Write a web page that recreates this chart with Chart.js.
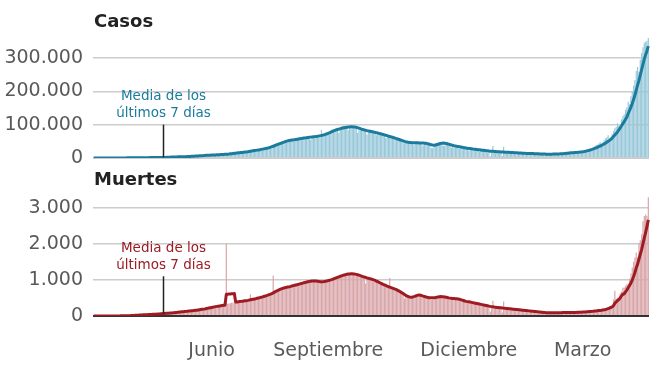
<!DOCTYPE html>
<html>
<head>
<meta charset="utf-8">
<script src="https://cdn.jsdelivr.net/npm/chart.js@4.4.0/dist/chart.umd.min.js"></script>
<style>
  html, body { margin: 0; padding: 0; background: #fff; }
  #wrap { position: relative; width: 660px; height: 371px; }
  #casos { position: absolute; left: 0; top: 0; }
  #muertes { position: absolute; left: 0; top: 165px; }
</style>
</head>
<body>
<div id="wrap">
  <canvas id="casos" width="660" height="180"></canvas>
  <canvas id="muertes" width="660" height="206"></canvas>
</div>
<script>
// dia 0 = 9 de marzo de 2020, ultimo dia = 27 de abril de 2021
// casos en miles
var casosDiarios = [
  0,0,0,0,0,0,0,0,0,0,0,0.1,0.1,0.1,0.1,0.1,0.1,0.1,0.1,0.2,0.1,0.2,0.3,
  0.4,0.3,0.5,0.5,0.6,0.5,0.6,0.6,0.7,0.8,0.9,0.8,0.8,1.0,0.9,1.1,1.0,1.3,1.3,1.5,1.2,1.3,1.6,1.4,1.8,1.6,1.5,1.6,1.8,1.7,
  2.0,2.4,2.6,3.9,2.9,3.6,3.3,3.3,3.6,3.5,4.2,3.6,3.7,3.9,3.9,4.9,5.0,4.6,5.6,5.6,6.0,6.5,6.7,7.0,6.5,6.5,6.4,7.3,7.5,8.4,8.8,
  8.2,8.2,9.6,9.3,9.9,9.9,10.4,9.9,9.5,11.1,10.9,11.5,11.3,12.0,11.5,10.7,13.1,13.6,14.5,15.4,14.8,14.0,15.4,16.6,17.2,18.6,19.4,20.0,19.4,18.3,
  18.9,19.3,21.9,23.0,23.5,22.8,21.8,22.5,24.5,25.9,26.5,27.4,27.6,28.0,30.5,32.0,31.8,33.5,35.0,36.0,34.0,37.0,43.0,45.0,44.0,46.0,46.0,44.0,49.0,50.0,52.0,
  54,53,50,52,56,57,59,60,61,54,53,60,64,63,65,63,58,55,63,66,68,69,67,61,60,84,71,73,76,79,70,
  69,78,83,83,87,91,90,75,89,95,96,97,94,92,83,90,97,96,93,93,87,75,83,86,86,89,88,82,70,80,
  86,81,79,75,75,68,72,78,74,73,72,67,60,63,66,63,62,58,58,56,55,56,54,52,50,47,44,47,48,47,46,
  46,45,38,46,50,47,46,46,38,38,45,47,44,44,41,30,29,38,45,45,46,46,45,44,37,37,44,43,41,39,
  31,36,35,36,36,32,27,32,31,30,30,30,27,22,26,24,22,23,26,24,26,19,23,24,23,19,19,16,21,5,20,
  36,19,18,16,18,20,18,6,34,16,12,16,16,16,15,13,14,10,14,15,14,14,14,13,9,13,18,12,18,13,11,
  12,9,11,13,13,11,12,12,9,11,12,9,12,12,11,9,12,13,13,14,14,14,10,13,16,16,16,17,
  15,13,15,17,17,18,18,15,16,18,23,22,25,25,26,24,28,35,39,40,43,47,40,47,53,59,62,68,57,53,72,
  81,89,93,104,97,96,116,126,131,145,152,169,161,185,200,217,234,261,273,259,295,315,332,346,349,352,360
];
var casosMedia = [
  0,0,0,0,0,0,0,0,0,0,0,0,0.1,0.1,0.1,0.1,0.1,0.1,0.1,0.1,0.1,0.1,0.2,
  0.3,0.3,0.4,0.4,0.5,0.5,0.5,0.6,0.6,0.7,0.7,0.8,0.8,0.9,0.9,0.9,1.0,1.0,1.1,1.2,1.2,1.3,1.4,1.4,1.5,1.5,1.6,1.6,1.7,1.7,
  1.8,1.9,2.1,2.3,2.5,2.7,2.9,3.0,3.2,3.3,3.4,3.5,3.6,3.7,3.8,3.9,4.1,4.3,4.5,4.7,5.0,5.2,5.5,5.8,6.0,6.2,6.4,6.6,6.9,7.2,7.6,
  7.9,8.1,8.3,8.5,8.7,8.9,9.1,9.3,9.5,9.7,9.9,10.2,10.5,10.8,11.0,11.2,11.6,12.0,12.5,13.0,13.5,14.0,14.5,15.0,15.4,15.8,16.3,16.8,17.3,17.8,
  18.3,18.8,19.5,20.2,20.9,21.6,22.3,22.9,23.6,24.3,25.0,25.8,26.6,27.4,28.2,29.0,30.0,31.2,32.5,33.9,35.3,36.8,38.4,40.0,41.6,43.2,44.8,46.3,47.8,49.2,50.5,
  51.5,52.3,53.0,53.7,54.4,55.1,55.8,56.5,57.2,57.9,58.6,59.2,59.8,60.4,61.0,61.6,62.1,62.6,63.1,63.6,64.1,64.6,65.2,65.9,66.7,67.6,68.6,69.7,70.9,72.2,73.6,
  75.5,77.5,79.5,81.2,82.8,84.2,85.5,86.7,87.8,88.8,89.8,90.7,91.5,92.2,92.8,93.2,93.4,93.4,93.2,92.8,92.0,90.9,89.6,88.2,86.8,85.5,84.3,83.2,82.2,81.3,
  80.5,79.6,78.7,77.8,76.9,76.0,75.0,74.0,72.9,71.8,70.6,69.4,68.2,67.0,65.8,64.6,63.4,62.1,60.8,59.5,58.2,56.9,55.5,54.1,52.7,51.3,49.9,48.6,47.7,47.0,46.5,
  46.2,46.0,45.8,45.6,45.5,45.4,45.3,45.2,45.0,44.8,44.5,44.0,43.2,42.2,41.0,39.8,38.8,38.4,38.8,39.8,41.2,42.6,43.8,44.6,44.8,44.4,43.6,42.6,41.5,40.3,
  39.2,38.2,37.2,36.3,35.4,34.6,33.8,33.0,32.2,31.4,30.7,30.0,29.4,28.8,28.2,27.6,27.0,26.5,26.0,25.5,25.0,24.5,24.0,23.5,23.0,22.5,22.0,21.5,21.0,20.6,20.2,
  19.9,19.6,19.3,19.0,18.7,18.4,18.1,17.9,17.7,17.5,17.3,17.1,16.9,16.7,16.5,16.3,16.1,15.9,15.6,15.3,15.0,14.7,14.4,14.2,14.0,13.8,13.6,13.5,13.4,13.3,13.2,
  13.0,12.8,12.6,12.4,12.2,12.0,11.9,11.8,11.7,11.6,11.5,11.5,11.5,11.6,11.7,11.8,11.9,12.1,12.3,12.5,12.8,13.1,13.4,13.8,14.2,14.6,15.0,15.4,
  15.8,16.1,16.4,16.7,17.0,17.4,17.8,18.3,18.9,19.6,20.4,21.3,22.3,23.4,24.6,25.9,27.3,28.8,30.4,32.1,33.9,35.8,37.8,39.9,42.2,44.6,47.2,50.0,53.0,56.2,59.6,
  64.6,68.9,73.3,78.4,84.1,90.3,96.6,103,109,116.4,123.3,133.6,142.9,152.7,163.3,175.6,188.3,203.9,218.7,232.7,248.4,264.9,281.3,297.3,309.9,321.1,335.6
];
var muertesDiarias = [
  0,0,0,0,1,0,0,1,0,0,1,1,1,1,2,2,3,3,4,4,5,5,6,
  8,6,10,9,12,14,15,17,20,25,28,29,30,35,33,38,36,40,42,44,47,45,50,52,48,55,60,58,66,70,
  72,70,78,80,85,82,90,95,97,100,105,110,115,118,120,125,130,128,135,140,148,150,155,160,158,165,175,180,185,190,200,
  205,210,220,230,240,245,255,260,270,275,280,285,295,300,305,2003,340,345,355,365,370,380,390,395,400,410,415,420,425,430,
  440,430,450,600,470,480,470,490,495,500,510,520,530,545,550,560,580,590,600,620,1120,640,690,700,720,730,740,760,770,780,790,
  780,830,800,850,860,840,880,870,910,880,920,930,950,920,960,990,940,980,1000,970,1000,980,960,950,920,930,960,990,980,960,1010,
  1000,990,1040,1030,1060,1070,1080,1090,1120,1110,1140,1150,1130,1170,1160,1180,1190,1170,1180,1150,1130,1160,1100,1120,1090,1080,1100,900,1040,1060,
  1050,1030,1000,950,940,970,960,930,900,890,880,870,820,860,820,1050,780,760,740,720,750,700,680,650,640,600,480,560,540,520,510,
  500,520,540,560,580,590,580,570,550,540,530,520,510,500,490,440,450,500,520,530,540,550,540,530,520,510,500,490,480,480,
  490,480,480,470,460,450,440,430,420,410,400,390,380,380,370,360,350,340,340,330,320,310,300,300,290,280,270,250,260,120,250,
  420,240,230,230,220,220,215,100,400,210,200,200,190,190,185,180,175,170,165,160,160,150,150,145,140,135,130,125,120,115,115,
  110,105,100,100,95,95,90,90,88,85,88,85,85,86,86,88,88,90,90,92,92,94,95,95,96,98,99,100,
  100,98,105,110,100,112,105,108,120,115,118,130,125,130,135,140,145,150,160,155,170,175,190,200,210,220,230,250,260,280,300,
  460,700,480,510,440,630,680,780,790,840,880,900,1030,1180,1340,1500,1620,1760,1620,2020,2100,2260,2620,2770,2810,2770,3290
];
var muertesMedia = [
  0,0,0,0,0,0,0,0,0,0,0,1,1,1,1,1,2,2,3,3,4,4,5,
  6,7,8,9,10,12,14,16,18,20,23,26,28,30,32,34,36,38,40,42,44,46,48,50,52,55,58,61,64,67,
  70,73,76,79,82,85,88,92,96,100,104,108,112,116,120,124,128,132,136,140,144,148,152,156,160,166,172,178,184,190,196,
  205,212,220,228,236,244,252,260,266,272,278,284,290,295,300,600,605,610,612,615,618,620,385,390,395,400,405,410,415,420,
  425,432,440,448,456,464,472,480,490,500,510,520,530,541,552,564,577,591,606,622,640,660,680,700,718,735,750,763,775,786,796,
  805,812,820,830,840,850,860,870,880,890,900,910,920,930,940,950,958,965,970,972,972,970,965,958,950,948,950,955,962,970,980,
  990,1000,1012,1025,1040,1055,1070,1085,1100,1112,1124,1135,1145,1155,1160,1165,1168,1168,1165,1160,1152,1142,1130,1118,1105,1092,1080,1068,1056,1045,
  1035,1024,1012,1000,985,968,950,932,914,896,878,862,846,830,815,800,786,772,758,744,728,710,690,668,645,620,595,570,550,535,525,
  520,525,535,548,565,578,580,575,565,552,540,528,518,510,505,503,503,505,510,518,527,534,537,536,532,526,518,510,502,495,
  490,486,483,480,476,470,462,452,440,428,416,405,398,392,386,378,370,362,354,346,338,330,322,314,306,298,290,282,274,266,260,
  254,248,243,238,234,230,226,222,218,214,210,206,202,198,194,190,186,182,178,174,170,166,162,158,154,150,146,142,138,134,130,
  126,122,118,114,110,106,102,98,94,91,89,88,87,87,87,88,89,90,91,92,93,94,95,96,97,98,99,100,
  97,98,99,100,101,102,104,106,108,110,113,116,119,122,125,128,132,136,140,145,150,155,160,166,172,180,190,205,220,235,250,
  286,354,390,427,453,503,557,603,616,667,720,786,843,914,994,1096,1207,1333,1436,1577,1709,1840,2000,2164,2314,2479,2660
];
var dias = casosDiarios.map(function (v, i) { return i; });

var casosTicks = [0, 100, 200, 300];
var casosTickTexto = ["0", "100.000", "200.000", "300.000"];
var muertesTicks = [0, 1000, 2000, 3000];
var muertesTickTexto = ["0", "1.000", "2.000", "3.000"];
var mesesDia = [88, 175, 280, 365];
var mesesNombre = ["Junio", "Septiembre", "Diciembre", "Marzo"];
var notaDia = 52;
var notaTexto = ["Media de los", "últimos 7 días"];

const fuente = "'DejaVu Sans', sans-serif";
Chart.defaults.font.family = fuente;
Chart.defaults.animation = false;

// titulo y nota "media de los ultimos 7 dias"
const notas = {
  id: "notas",
  afterDatasetsDraw(chart, args, o) {
    const ctx = chart.ctx;
    const x = chart.scales.x, y = chart.scales.y;
    const px = Math.round(x.getPixelForValue(notaDia)) + 0.5;
    const top = y.getPixelForValue(o.desde);
    const bottom = y.getPixelForValue(o.hasta);
    ctx.save();
    ctx.strokeStyle = "#222";
    ctx.lineWidth = 1.5;
    ctx.beginPath();
    ctx.moveTo(px, top);
    ctx.lineTo(px, bottom);
    ctx.stroke();
    ctx.fillStyle = o.color;
    ctx.font = "13.5px " + fuente;
    ctx.textAlign = "center";
    ctx.textBaseline = "middle";
    ctx.fillText(notaTexto[0], px, top - 28);
    ctx.fillText(notaTexto[1], px, top - 11);
    ctx.font = "bold 18px " + fuente;
    ctx.fillStyle = "#222";
    ctx.textAlign = "left";
    ctx.textBaseline = "alphabetic";
    ctx.fillText(o.titulo, 94, o.ty);
    ctx.restore();
  }
};

function ejeY(max, ticks, textos, colorCero) {
  return {
    min: 0,
    max: max,
    afterBuildTicks: function (s) { s.ticks = ticks.map(function (v) { return { value: v }; }); },
    afterFit: function (s) { s.width = 93; },
    border: { display: false },
    grid: {
      drawTicks: false,
      color: function (c) { return c.tick.value === 0 ? colorCero : "#cccccc"; },
      lineWidth: function (c) { return c.tick.value === 0 ? 2 : 1.5; }
    },
    ticks: {
      padding: 10,
      color: "#595959",
      font: { size: 19 },
      callback: function (v) { return textos[ticks.indexOf(v)]; }
    }
  };
}

// CASOS
new Chart("casos", {
  type: "bar",
  data: {
    labels: dias,
    datasets: [
      { type: "line", data: casosMedia, borderColor: "#1a7b9d", borderWidth: 3, pointRadius: 0, borderJoinStyle: "round" },
      { data: casosDiarios, backgroundColor: "#98c8d9", barPercentage: 0.9, categoryPercentage: 1 }
    ]
  },
  options: {
    responsive: false,
    events: [],
    layout: { padding: { top: 38, right: 11, bottom: 0, left: 0 } },
    plugins: {
      legend: { display: false },
      tooltip: { enabled: false },
      notas: { desde: 100, hasta: 2, color: "#1a7b9d", titulo: "Casos", ty: 27 }
    },
    scales: {
      x: {
        afterFit: function (s) { s.height = 22; },
        border: { display: false },
        grid: { display: false, drawTicks: false },
        ticks: { display: false }
      },
      y: ejeY(360, casosTicks, casosTickTexto, "#cccccc")
    }
  },
  plugins: [notas]
});

// MUERTES
new Chart("muertes", {
  type: "bar",
  data: {
    labels: dias,
    datasets: [
      { type: "line", data: muertesMedia, borderColor: "#9e1b22", borderWidth: 3, pointRadius: 0, borderJoinStyle: "round" },
      { data: muertesDiarias, backgroundColor: "#d9a6aa", barPercentage: 0.9, categoryPercentage: 1 }
    ]
  },
  options: {
    responsive: false,
    events: [],
    layout: { padding: { top: 30, right: 11, bottom: 0, left: 0 } },
    plugins: {
      legend: { display: false },
      tooltip: { enabled: false },
      notas: { desde: 1100, hasta: 67, color: "#9e1b22", titulo: "Muertes", ty: 20 }
    },
    scales: {
      x: {
        afterFit: function (s) { s.height = 55; },
        border: { display: false },
        grid: { display: false, drawTicks: true, tickLength: 24 },
        ticks: {
          autoSkip: false,
          maxRotation: 0,
          minRotation: 0,
          padding: 0,
          color: "#595959",
          font: { size: 19 },
          callback: function (v, i) {
            var k = mesesDia.indexOf(i);
            return k >= 0 ? mesesNombre[k] : "";
          }
        }
      },
      y: ejeY(3350, muertesTicks, muertesTickTexto, "#333333")
    }
  },
  plugins: [notas]
});
</script>
</body>
</html>
